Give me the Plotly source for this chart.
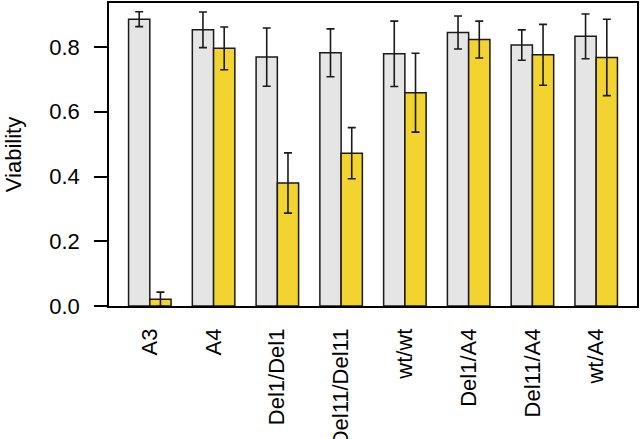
import plotly.graph_objects as go

categories = ["A3", "A4", "Del1/Del1", "Del11/Del11", "wt/wt", "Del1/A4", "Del11/A4", "wt/A4"]
grey_values = [0.886, 0.853, 0.769, 0.782, 0.779, 0.845, 0.806, 0.833]
grey_errors = [0.023, 0.055, 0.090, 0.074, 0.101, 0.051, 0.047, 0.069]
yellow_values = [0.021, 0.796, 0.380, 0.472, 0.659, 0.823, 0.776, 0.768]
yellow_errors = [0.022, 0.066, 0.093, 0.079, 0.122, 0.057, 0.094, 0.118]
y_ticks = [0.0, 0.2, 0.4, 0.6, 0.8]
y_tick_labels = ["0.0", "0.2", "0.4", "0.6", "0.8"]

FONT = "Liberation Sans, Arial, Helvetica, sans-serif"
FS = 22

fig = go.Figure()
fig.add_trace(go.Bar(
    x=categories, y=grey_values,
    marker=dict(color="#e5e5e5", line=dict(color="#1a1a1a", width=1.5)),
    error_y=dict(type="data", array=grey_errors, color="#1a1a1a", thickness=1.6, width=4),
    showlegend=False,
))
fig.add_trace(go.Bar(
    x=categories, y=yellow_values,
    marker=dict(color="#f2d32f", line=dict(color="#1a1a1a", width=1.5)),
    error_y=dict(type="data", array=yellow_errors, color="#1a1a1a", thickness=1.6, width=4),
    showlegend=False,
))

fig.update_layout(
    width=641, height=439,
    margin=dict(l=109, r=4, t=3, b=133),
    paper_bgcolor="white", plot_bgcolor="white",
    barmode="group", bargap=1/3, bargroupgap=0,
    font=dict(family=FONT, size=FS, color="black"),
    xaxis=dict(
        type="category", range=[-0.64, 7.64], automargin=False,
        showline=True, linecolor="black", linewidth=1.5, mirror=True,
        ticks="", tickangle=-90, showgrid=False, zeroline=False,
        tickfont=dict(size=FS), ticklabelstandoff=12,
    ),
    yaxis=dict(
        range=[0, 0.936], automargin=False,
        tickvals=y_ticks, ticktext=y_tick_labels,
        showline=True, linecolor="black", linewidth=1.5, mirror=True,
        ticks="outside", ticklen=13, tickwidth=1.5, tickcolor="black",
        showgrid=False, zeroline=False,
        tickfont=dict(size=FS), ticklabelstandoff=10,
        title=dict(text="Viability", font=dict(size=FS), standoff=22),
    ),
)

fig.write_html("out.html", config={"displayModeBar": False},
               post_script="document.body.style.margin='0';")
